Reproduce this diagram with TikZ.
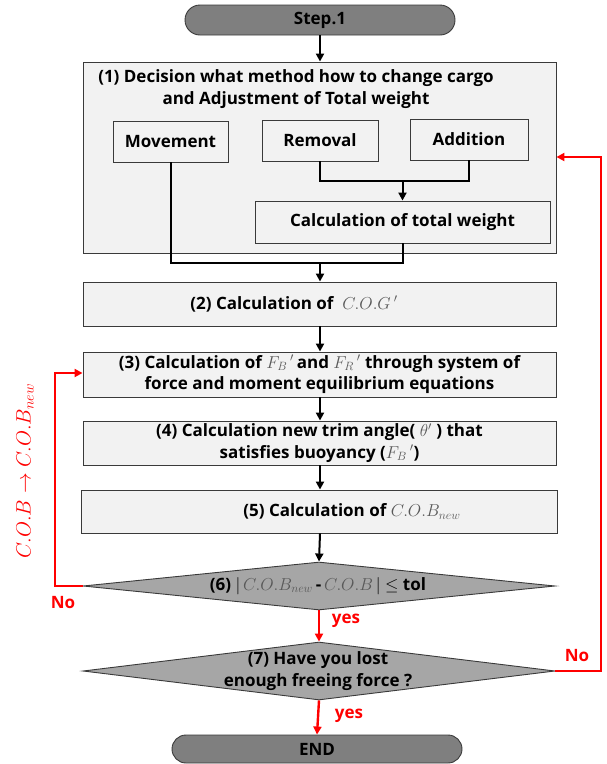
\documentclass[tikz,border=0pt]{standalone}
\usepackage{fontspec}
\setmainfont{Open Sans}
\usetikzlibrary{shapes.geometric,shapes.misc,arrows.meta}
\definecolor{boxgray}{HTML}{F2F2F2}
\definecolor{termgray}{HTML}{7F7F7F}
\definecolor{diagray}{HTML}{A6A6A6}
\definecolor{edgegray}{HTML}{3A3A3A}
\definecolor{mathgray}{HTML}{595959}
\definecolor{myred}{HTML}{FF0000}
\newcommand{\mg}[1]{\textcolor{mathgray}{$#1$}}
\begin{document}
\begin{tikzpicture}[x=1pt,y=-1pt,
  font=\fontsize{17}{21.5}\selectfont\bfseries,
  box/.style={draw=edgegray, fill=boxgray, line width=0.9pt, inner sep=0pt},
  wbox/.style={draw=edgegray, fill=boxgray, line width=0.9pt, inner sep=0pt},
  term/.style={rounded rectangle, draw=edgegray, fill=termgray, line width=0.9pt, inner sep=0pt},
  dec/.style={diamond, draw=edgegray, fill=diagray, line width=0.9pt, inner sep=0pt},
  conn/.style={line width=2pt, black},
  arr/.style={conn, -{Triangle[length=8pt,width=8pt]}},
  rarr/.style={line width=2.4pt, myred, -{Triangle[length=8pt,width=8pt]}},
  rlab/.style={text=myred, font=\fontsize{17}{20}\selectfont\bfseries}
]
\useasboundingbox (0,0) rectangle (606,764);
% Step 1
\node[term, minimum width=270pt, minimum height=30pt] (s1) at (320,20) {Step.1};
% Box 1
\node[box, minimum width=473pt, minimum height=191pt] (b1) at (319.5,157.5) {};
\node[align=center] (t1) at (296,89) {(1) Decision what method how to change cargo\\and Adjustment of Total weight};
\node[wbox, minimum width=115pt, minimum height=41pt] (mv) at (170.5,141.5) {Movement};
\node[wbox, minimum width=116pt, minimum height=41pt] (rm) at (320,140.5) {Removal};
\node[wbox, minimum width=118pt, minimum height=41pt] (ad) at (469,139.5) {Addition};
\node[wbox, minimum width=295pt, minimum height=42pt] (tw) at (402.5,222) {Calculation of total weight};
% Boxes 2-5
\node[box, minimum width=473pt, minimum height=44pt] (b2) at (319.5,304) {};
\node (t2) at (294,304) {(2) Calculation of \ \mg{C.O.G\,'}};
\node[box, minimum width=473pt, minimum height=45pt, align=center] (b3) at (319.5,374.5)
  {(3) Calculation of \mg{F_B\,'}\,and \mg{F_R\,'} through system of\\force and moment equilibrium equations};
\node[box, minimum width=473pt, minimum height=44pt, align=center] (b4) at (319.5,443)
  {(4) Calculation new trim angle( \mg{\theta'} ) that\\satisfies buoyancy (\mg{F_B\,'})};
\node[box, minimum width=476pt, minimum height=43pt] (b5) at (319,511.5) {};
\node (t5) at (352,511.5) {(5) Calculation of \mg{C.O.B_{new}}};
% Decisions
\node[dec, minimum width=472pt, minimum height=48pt] (d6) at (319,586) {};
\node (t6) at (318,586) {(6) $|$\,\mg{C.O.B_{new}}\,-\,\mg{C.O.B}\,$|$ $\leq$ tol};
\node[dec, minimum width=472pt, minimum height=58pt] (d7) at (319,671) {};
\node[align=center] (t7) at (318,671) {(7) Have you lost\\enough freeing force ?};
% End
\node[term, minimum width=290pt, minimum height=28pt] (en) at (317,749) {END};
% black connectors
\draw[arr] (s1.south) -- (b1.north -| s1.south);
\coordinate (j1) at (402.5,181);
\draw[conn] (rm.south) |- (ad.south |- j1) -- (ad.south);
\draw[arr] (j1) -- (tw.north);
\coordinate (j2) at (320,263);
\draw[conn] (mv.south) |- (tw.south |- j2) -- (tw.south);
\draw[arr] (j2) -- (b2.north -| j2);
\draw[arr] (b2.south -| j2) -- (b3.north -| j2);
\draw[arr] (b3.south -| j2) -- (b4.north -| j2);
\draw[arr] (b4.south -| j2) -- (b5.north -| j2);
\draw[arr] (b5.south -| j2) -- (d6.north);
% red connectors
\draw[rarr] (d6.south) -- (d7.north);
\draw[rarr] (d7.south) -- (en.north);
\coordinate (l1) at (55,373);
\draw[rarr] (d6.west) -| (l1) -- (b3.west |- l1);
\coordinate (r1) at (601,157);
\draw[rarr] (d7.east) -| (r1) -- (b1.east |- r1);
% red labels
\node[rlab] (y1) at (346,621) {yes};
\node[rlab] (y2) at (349,716) {yes};
\node[rlab] (n1) at (63,603) {No};
\node[rlab] (n2) at (577,656) {No};
\node[rotate=90, text=myred, font=\fontsize{21}{21}\selectfont] (cob) at (25,471) {$C.O.B \rightarrow C.O.B_{new}$};
\end{tikzpicture}
\end{document}
